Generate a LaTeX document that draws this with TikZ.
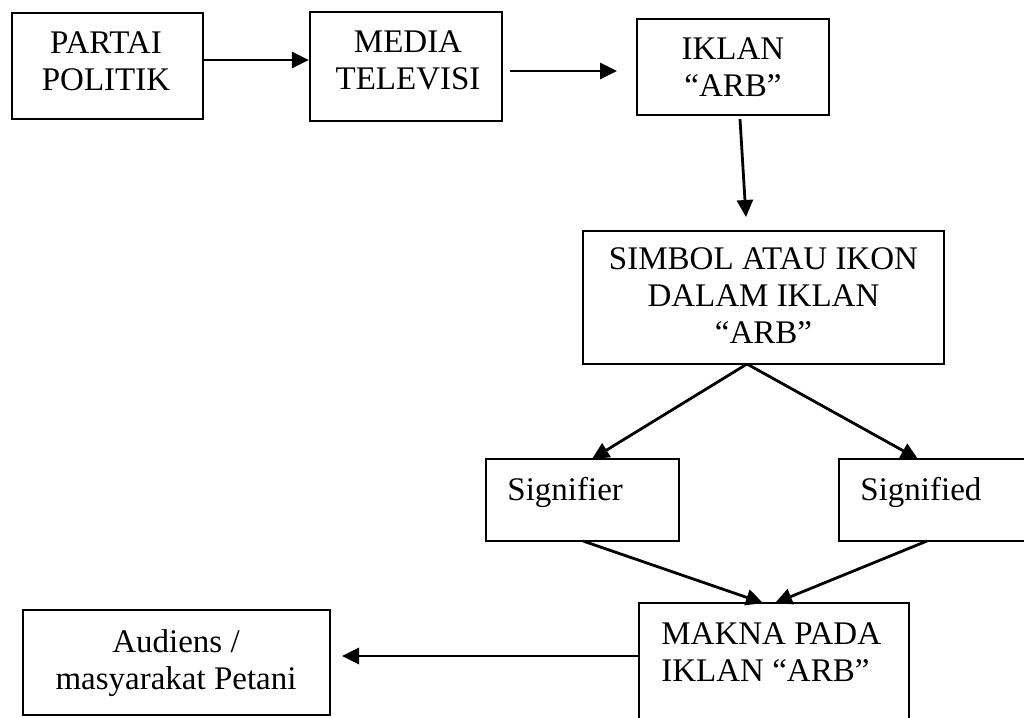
\documentclass[tikz,border=0pt]{standalone}
\usepackage{fontspec}
\setmainfont{Liberation Serif}
\usetikzlibrary{arrows.meta}
\begin{document}
\begin{tikzpicture}[x=0.5pt,y=-0.5pt,
  box/.style={draw=black,line width=1.1pt,inner sep=0pt,rectangle},
  lbl/.style={inner sep=0pt,font=\fontsize{16.5pt}{18.5pt}\selectfont,align=center},
  arr/.style={line width=1.4pt,-{Triangle[length=8.5pt,width=8pt]}}]
\useasboundingbox (0,0) rectangle (1024,718);
\clip (0,0) rectangle (1024,718);
\fill[white] (0,0) rectangle (1024,718);
% boxes
\node[box,minimum width=95.5pt,minimum height=53pt] (b1) at (107.5,66) {};
\node[box,minimum width=96pt,minimum height=54.5pt] (b2) at (406,66.5) {};
\node[box,minimum width=96pt,minimum height=48pt] (b3) at (733,67) {};
\node[box,minimum width=180.5pt,minimum height=66.5pt] (b4) at (763.5,297.5) {};
\node[box,minimum width=96.5pt,minimum height=41pt] (b5) at (582.5,500) {};
\node[box,minimum width=100.5pt,minimum height=41pt] (b6) at (939.5,500) {};
\node[box,minimum width=135pt,minimum height=68.5pt] (b7) at (774,671.5) {};
\node[box,minimum width=153.5pt,minimum height=52.5pt] (b8) at (176.5,662.5) {};
% texts
\node[lbl] (t1) at (106,61.5) {PARTAI\\POLITIK};
\node[lbl] (t2) at (408,60) {MEDIA\\TELEVISI};
\node[lbl] (t3) at (733,67) {IKLAN\\“ARB”};
\node[lbl] (t4) at (763.5,296) {SIMBOL ATAU IKON\\DALAM IKLAN\\“ARB”};
\node[lbl,anchor=base west] (t5) at (507,500) {Signifier};
\node[lbl,anchor=base west] (t6) at (860,500) {Signified};
\node[lbl,anchor=west,align=left] (t7) at (661,652.5) {MAKNA PADA\\IKLAN “ARB”};
\node[lbl] (t8) at (176,663) {Audiens /\\masyarakat Petani};
% connector ends
\coordinate (a2s) at (510,71);
\coordinate (a2e) at (617,71);
\coordinate (a3s) at (740,119);
\coordinate (a3e) at (746,217);
\coordinate (apex) at (747,364);
\coordinate (sfrTip) at (592,459);
\coordinate (sfdTip) at (918,459);
\coordinate (sfrOut) at (583,541);
\coordinate (sfdOut) at (927,541);
\coordinate (mkL) at (763,603);
\coordinate (mkR) at (775,603);
\coordinate (audTip) at (342,656);
% connectors
\draw[arr] (b1.east |- 0,60) -- (b2.west |- 0,60);
\draw[arr] (a2s) -- (a2e);
\draw[arr] (a3s) -- (a3e);
\draw[arr] (apex) -- (sfrTip);
\draw[arr] (apex) -- (sfdTip);
\draw[arr] (sfrOut) -- (mkL);
\draw[arr] (sfdOut) -- (mkR);
\draw[arr] (b7.west |- 0,656) -- (audTip);
\end{tikzpicture}
\end{document}
